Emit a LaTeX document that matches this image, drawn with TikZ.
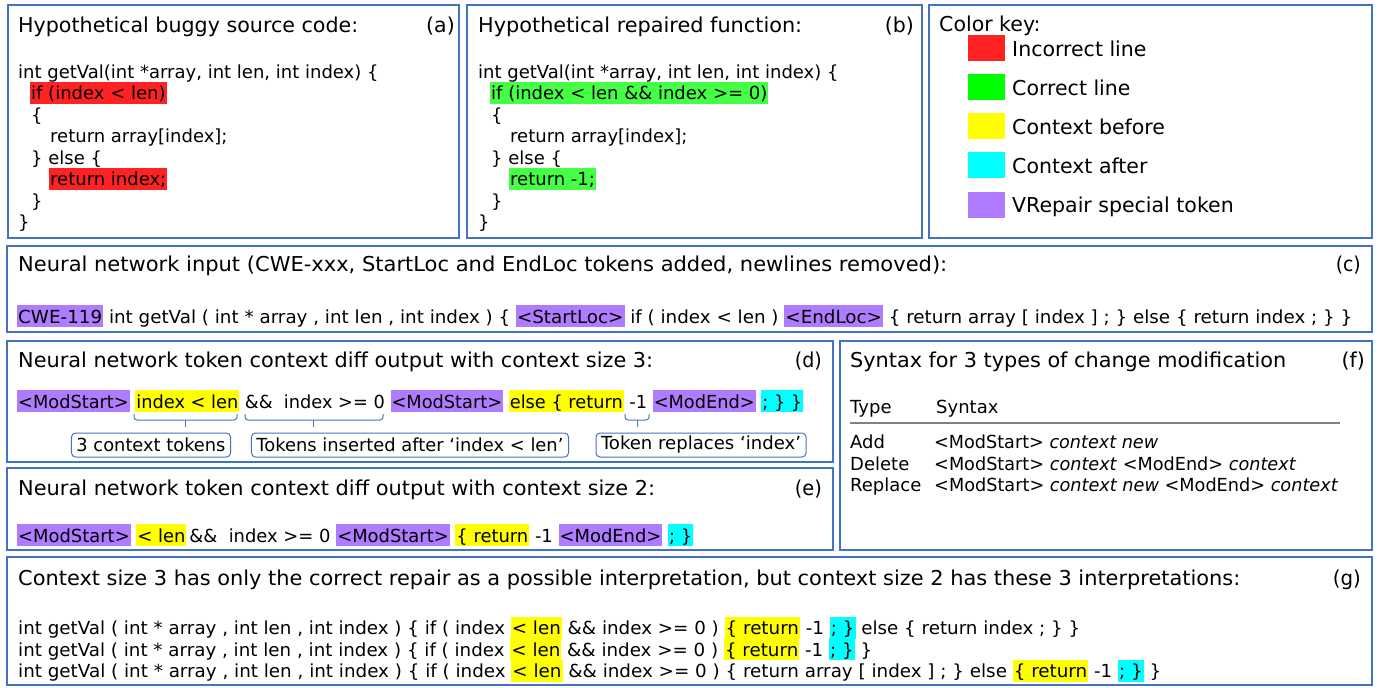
\documentclass[tikz,border=0pt]{standalone}
\usepackage{fontspec}
\setmainfont{DejaVu Sans}
\usepackage{graphicx}
\definecolor{pblue}{HTML}{4472C4}
\definecolor{hred}{HTML}{FF2222}
\definecolor{hgreen}{HTML}{44FF44}
\definecolor{kgreen}{HTML}{00FF00}
\definecolor{hyel}{HTML}{FFFF00}
\definecolor{hcyan}{HTML}{00FFFF}
\definecolor{hpurp}{HTML}{B07CFF}
\definecolor{rulegray}{HTML}{808080}
\newcommand\fitw[2]{\resizebox{#1pt}{\height}{#2}}
\newcommand\hlbox[2]{{\setlength{\fboxsep}{0pt}\colorbox{#1}{\rule[-4pt]{0pt}{22pt}\kern1pt#2\kern1pt}}}
\newcommand\fsz[1]{\fontsize{#1pt}{#1pt}\selectfont}
\tikzset{
  panel/.style={draw=pblue, line width=2pt},
  txt/.style={inner sep=0pt, anchor=base west, text=black},
  ttl/.style={txt, font=\fsz{20.5}},
  code/.style={txt, font=\fsz{18}},
  tok/.style={txt, font=\fsz{18}},
  lbl/.style={inner sep=0pt, anchor=base east, font=\fsz{20.5}},
  swatch/.style={minimum width=37pt, minimum height=26pt, inner sep=0pt},
  callout/.style={draw=pblue, rounded corners=4pt, line width=1pt, minimum height=24pt, inner xsep=5pt, inner ysep=0pt, font=\fsz{18}},
  bracket/.style={draw=pblue, line width=1pt, rounded corners=3pt},
}
\begin{document}
\begin{tikzpicture}[x=1pt,y=-1pt]
\useasboundingbox (0,0) rectangle (1379,688);
\fill[white] (0,0) rectangle (1379,688);
% panels
\draw[panel] (8,5) rectangle (459,238);
\draw[panel] (467,5) rectangle (922,238);
\draw[panel] (929,5) rectangle (1372,238);
\draw[panel] (7,246) rectangle (1372,332);
\draw[panel] (7,341) rectangle (833,462);
\draw[panel] (7,468) rectangle (833,550);
\draw[panel] (840,341) rectangle (1372,550);
\draw[panel] (7,557) rectangle (1372,685);
% (a)
\node[ttl] (ta) at (18,32) {\fitw{340}{Hypothetical buggy source code:}};
\node[lbl] (la) at (455,32) {(a)};
\node[code] (a1) at (18,78) {int getVal(int *array, int len, int index) \{};
\node[code] (a2) at (30,99.5) {\hlbox{hred}{if (index < len)}};
\node[code] (a3) at (31,121) {\{};
\node[code] (a4) at (50,142.5) {return array[index];};
\node[code] (a5) at (31,164) {\} else \{};
\node[code] (a6) at (49,185.5) {\hlbox{hred}{return index;}};
\node[code] (a7) at (31,207) {\}};
\node[code] (a8) at (18,228.5) {\}};
% (b)
\node[ttl] (tb) at (478,32) {\fitw{324}{Hypothetical repaired function:}};
\node[lbl] (lb) at (914,32) {(b)};
\node[code] (b1) at (478,78) {int getVal(int *array, int len, int index) \{};
\node[code] (b2) at (490,99.5) {\hlbox{hgreen}{if (index < len \&\& index >= 0)}};
\node[code] (b3) at (491,121) {\{};
\node[code] (b4) at (510,142.5) {return array[index];};
\node[code] (b5) at (491,164) {\} else \{};
\node[code] (b6) at (509,185.5) {\hlbox{hgreen}{return -1;}};
\node[code] (b7) at (491,207) {\}};
\node[code] (b8) at (478,228.5) {\}};
% key
\node[ttl] (tk) at (939,31) {Color key:};
\node[swatch, fill=hred] (s1) at (986.5,48) {};
\node[swatch, fill=kgreen] (s2) at (986.5,87) {};
\node[swatch, fill=hyel] (s3) at (986.5,126) {};
\node[swatch, fill=hcyan] (s4) at (986.5,165) {};
\node[swatch, fill=hpurp] (s5) at (986.5,205) {};
\node[ttl] (k1) at (1012,56) {Incorrect line};
\node[ttl] (k2) at (1012,95) {Correct line};
\node[ttl] (k3) at (1012,134) {Context before};
\node[ttl] (k4) at (1012,173) {Context after};
\node[ttl] (k5) at (1012,212) {VRepair special token};
% (c)
\node[ttl] (tc) at (18,271) {\fitw{929}{Neural network input (CWE-xxx, StartLoc and EndLoc tokens added, newlines removed):}};
\node[lbl] (lc) at (1361,271) {\fitw{25}{(c)}};
\node[tok] (c1) at (17,323) {\fitw{1335}{\hlbox{hpurp}{CWE-119} int getVal ( int * array , int len , int index ) \{ \hlbox{hpurp}{<StartLoc>} if ( index < len ) \hlbox{hpurp}{<EndLoc>} \{ return array [ index ] ; \} else \{ return index ; \} \}}};
% (d)
\node[ttl] (td) at (18,367) {\fitw{635}{Neural network token context diff output with context size 3:}};
\node[lbl] (ld) at (822,367) {\fitw{27}{(d)}};
\node[tok] (d1) at (17,408) {\fitw{786}{\hlbox{hpurp}{<ModStart>} \hlbox{hyel}{index < len} \&\&\ \ index >= 0 \hlbox{hpurp}{<ModStart>} \hlbox{hyel}{else \{ return} -1 \hlbox{hpurp}{<ModEnd>} \hlbox{hcyan}{; \} \}}}};
\draw[bracket] (134,414) -- (134,420) -- (237,420) -- (237,414);
\draw[bracket] (185,420) -- (185,427);
\draw[bracket] (245,414) -- (245,420) -- (383,420) -- (383,414);
\draw[bracket] (313,420) -- (313,427);
\draw[bracket] (625,414) -- (625,420) -- (649,420) -- (649,414);
\draw[bracket] (637,420) -- (637,427);
\node[callout] (n1) at (151,445) {\fitw{149}{3 context tokens}};
\node[callout] (n2) at (410,445) {\fitw{307}{Tokens inserted after ‘index < len’}};
\node[callout] (n3) at (701,445) {\fitw{200}{Token replaces ‘index’}};
% (e)
\node[ttl] (te) at (18,495) {\fitw{637}{Neural network token context diff output with context size 2:}};
\node[lbl] (le) at (822,495) {\fitw{27}{(e)}};
\node[tok] (e1) at (17,542) {\fitw{676}{\hlbox{hpurp}{<ModStart>} \hlbox{hyel}{< len}\,\&\&\ \ index >= 0 \hlbox{hpurp}{<ModStart>} \hlbox{hyel}{\{ return} -1 \hlbox{hpurp}{<ModEnd>} \hlbox{hcyan}{; \}}}};
% (f)
\node[ttl] (tf) at (850,367) {\fitw{436}{Syntax for 3 types of change modification}};
\node[lbl] (lf) at (1365,367) {(f)};
\node[code] (fh1) at (850,413) {Type};
\node[code] (fh2) at (936,413) {Syntax};
\draw[rulegray, line width=1.5pt] (850,423) -- (1340,423);
\node[code] (fr1) at (850,448) {Add};
\node[code] (fr2) at (850,470) {Delete};
\node[code] (fr3) at (850,491) {Replace};
\node[code] (fs1) at (934,448) {\fitw{224}{<ModStart> \textit{context new}}};
\node[code] (fs2) at (934,470) {\fitw{362}{<ModStart> \textit{context} <ModEnd> \textit{context}}};
\node[code] (fs3) at (934,491) {\fitw{404}{<ModStart> \textit{context new} <ModEnd> \textit{context}}};
% (g)
\node[ttl] (tg) at (18,585) {\fitw{1222}{Context size 3 has only the correct repair as a possible interpretation, but context size 2 has these 3 interpretations:}};
\node[lbl] (lg) at (1361,585) {\fitw{28}{(g)}};
\node[tok] (g1) at (18,634.5) {\fitw{1062}{int getVal ( int * array , int len , int index ) \{ if ( index \hlbox{hyel}{< len} \&\& index >= 0 ) \hlbox{hyel}{\{ return} -1 \hlbox{hcyan}{; \}} else \{ return index ; \} \}}};
\node[tok] (g2) at (18,656) {\fitw{854}{int getVal ( int * array , int len , int index ) \{ if ( index \hlbox{hyel}{< len} \&\& index >= 0 ) \hlbox{hyel}{\{ return} -1 \hlbox{hcyan}{; \}} \}}};
\node[tok] (g3) at (18,677.5) {\fitw{1143}{int getVal ( int * array , int len , int index ) \{ if ( index \hlbox{hyel}{< len} \&\& index >= 0 ) \{ return array [ index ] ; \} else \hlbox{hyel}{\{ return} -1 \hlbox{hcyan}{; \}} \}}};
\end{tikzpicture}
\end{document}
